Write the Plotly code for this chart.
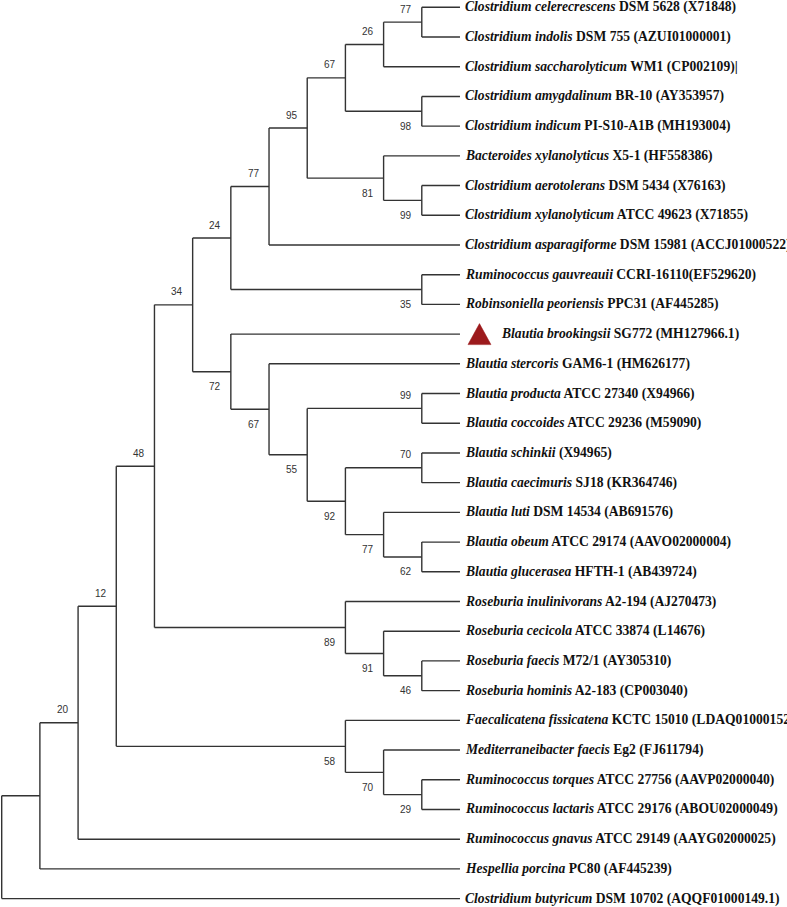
import plotly.graph_objects as go

# ---------------- data ----------------
species = [
    "Clostridium celerecrescens", "Clostridium indolis", "Clostridium saccharolyticum",
    "Clostridium amygdalinum", "Clostridium indicum", "Bacteroides xylanolyticus",
    "Clostridium aerotolerans", "Clostridium xylanolyticum", "Clostridium asparagiforme",
    "Ruminococcus gauvreauii", "Robinsoniella peoriensis", "Blautia brookingsii",
    "Blautia stercoris", "Blautia producta", "Blautia coccoides", "Blautia schinkii",
    "Blautia caecimuris", "Blautia luti", "Blautia obeum", "Blautia glucerasea",
    "Roseburia inulinivorans", "Roseburia cecicola", "Roseburia faecis", "Roseburia hominis",
    "Faecalicatena fissicatena", "Mediterraneibacter faecis", "Ruminococcus torques",
    "Ruminococcus lactaris", "Ruminococcus gnavus", "Hespellia porcina", "Clostridium butyricum",
]
strains = [
    "DSM 5628 (X71848)", "DSM 755 (AZUI01000001)", "WM1 (CP002109)|",
    "BR-10 (AY353957)", "PI-S10-A1B (MH193004)", "X5-1 (HF558386)",
    "DSM 5434 (X76163)", "ATCC 49623 (X71855)", "DSM 15981 (ACCJ01000522)",
    "CCRI-16110(EF529620)", "PPC31 (AF445285)", "SG772 (MH127966.1)",
    "GAM6-1 (HM626177)", "ATCC 27340 (X94966)", "ATCC 29236 (M59090)", "(X94965)",
    "SJ18 (KR364746)", "DSM 14534 (AB691576)", "ATCC 29174 (AAVO02000004)", "HFTH-1 (AB439724)",
    "A2-194 (AJ270473)", "ATCC 33874 (L14676)", "M72/1 (AY305310)", "A2-183 (CP003040)",
    "KCTC 15010 (LDAQ01000152)", "Eg2 (FJ611794)", "ATCC 27756 (AAVP02000040)",
    "ATCC 29176 (ABOU02000049)", "ATCC 29149 (AAYG02000025)", "PC80 (AF445239)",
    "DSM 10702 (AQQF01000149.1)",
]
# topology (leaf indices) with bootstrap support after each clade
newick = ("((((((((((((0,1)77,2)26,(3,4)98)67,(5,(6,7)99)81)95,8)77,(9,10)35)24,"
          "(11,(12,((13,14)99,((15,16)70,(17,(18,19)62)77)92)55)67)72)34,"
          "(20,(21,(22,23)46)91)89)48,(24,(25,(26,27)29)70)58)12,28)20,29),30);")
highlighted = [11]

# ---------------- tree parsing / layout ----------------
def parse(s):
    pos = 0

    def node():
        nonlocal pos
        if s[pos] == "(":
            pos += 1
            kids = [node()]
            while s[pos] == ",":
                pos += 1
                kids.append(node())
            pos += 1  # ')'
            start = pos
            while pos < len(s) and s[pos] not in ",);":
                pos += 1
            lab = s[start:pos]
            return {"children": kids, "support": int(lab) if lab else None}
        start = pos
        while s[pos] not in ",);":
            pos += 1
        return {"leaf": int(s[start:pos])}

    return node()


root = parse(newick)


def layout(n):
    if "leaf" in n:
        n["h"] = 0
        n["y"] = n["leaf"]
    else:
        for c in n["children"]:
            layout(c)
        n["h"] = max(c["h"] for c in n["children"]) + 1
        n["y"] = (n["children"][0]["y"] + n["children"][-1]["y"]) / 2


layout(root)
H = root["h"]

# pixel geometry of the picture
PXX = 38.19   # px per depth step
PXY = 29.71   # px per leaf row
X0 = 1.7      # px of root
Y0 = 7.3      # px of first leaf
W, HGT = 787, 907

xs, ys = [], []
annots = []


def draw(n, parent=None, upper=True):
    x = H - n["h"]
    if parent is not None:
        px = H - parent["h"]
        xs.extend([px, x, None])
        ys.extend([n["y"], n["y"], None])
    if "children" in n:
        kids = n["children"]
        xs.extend([x, x, None])
        ys.extend([kids[0]["y"], kids[-1]["y"], None])
        for i, c in enumerate(kids):
            draw(c, n, i == 0)
        if n["support"] is not None:
            annots.append(dict(
                x=x, y=n["y"], text=str(n["support"]), showarrow=False,
                xanchor="center", yanchor="middle",
                xshift=-15.5, yshift=13 if upper else -15,
                font=dict(family="Liberation Sans, Arial", size=10, color="#333333"),
            ))


draw(root)

for i, (sp, st) in enumerate(zip(species, strains)):
    annots.append(dict(
        x=H, y=i, text=f"<b><i>{sp}</i> {st}</b>", showarrow=False,
        xanchor="left", yanchor="middle",
        xshift=39 if i in highlighted else 3, yshift=0,
        font=dict(family="Liberation Serif, Times New Roman", size=13.6, color="#111111"),
    ))

fig = go.Figure()
fig.add_trace(go.Scatter(
    x=xs, y=ys, mode="lines", line=dict(color="#333333", width=1.4),
    hoverinfo="skip", showlegend=False,
))

# red triangle marking the new isolate
tx, ty = [], []
for i in highlighted:
    cx = H + 19.5 / PXX
    hw = 11.5 / PXX
    tx += [cx - hw, cx + hw, cx, cx - hw, None]
    ty += [i + 10.5 / PXY, i + 10.5 / PXY, i - 10.5 / PXY, i + 10.5 / PXY, None]
fig.add_trace(go.Scatter(
    x=tx, y=ty, mode="lines", fill="toself", fillcolor="#9C1A1C",
    line=dict(color="#9C1A1C", width=0.5), hoverinfo="skip", showlegend=False,
))

fig.update_layout(
    width=W, height=HGT,
    margin=dict(l=0, r=0, t=0, b=0),
    paper_bgcolor="white", plot_bgcolor="white",
    xaxis=dict(range=[-X0 / PXX, (W - X0) / PXX], visible=False, fixedrange=True),
    yaxis=dict(range=[(HGT - Y0) / PXY, -Y0 / PXY], visible=False, fixedrange=True),
    annotations=annots,
    showlegend=False,
)

fig.write_html(
    "out.html",
    config={"displayModeBar": False},
    post_script="document.body.style.margin='0';document.body.style.overflow='hidden';",
)
